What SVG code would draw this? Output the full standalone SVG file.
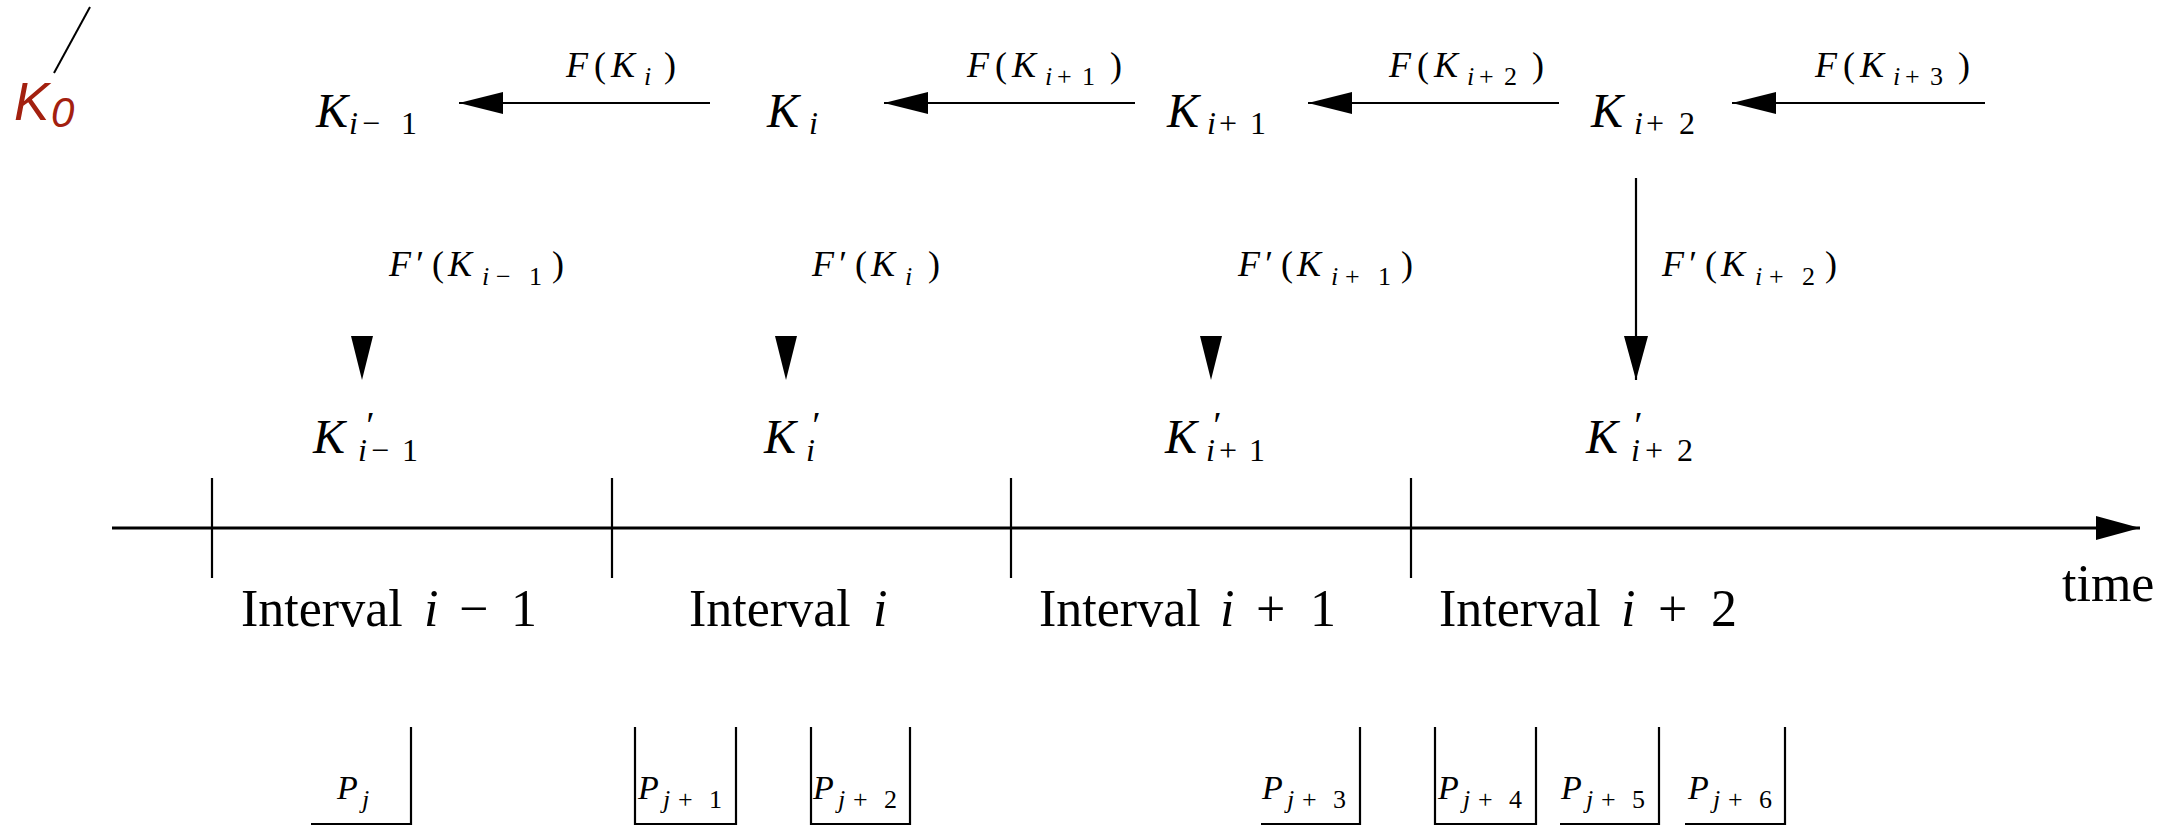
<svg xmlns="http://www.w3.org/2000/svg" width="2183" height="826" viewBox="0 0 2183 826">
<style>
.m{font-family:"Liberation Serif","Times New Roman",serif;font-style:italic;fill:#000}
.u{font-style:normal}
.big{font-size:48px}
.s30{font-size:32px}
.pr{font-size:38px}
.f34{font-size:36px}
.s24{font-size:26px}
.p32{font-size:34px}
.rm{font-family:"Liberation Serif","Times New Roman",serif;font-size:52px;fill:#000}
.it{font-style:italic}
.ln{stroke:#000;stroke-width:2.2;fill:none}
.ax{stroke:#000;stroke-width:3;fill:none}
.hd{fill:#000}
.note{font-family:"Liberation Sans",Arial,sans-serif;font-style:italic;fill:#A3200F}
</style>
<defs>
<marker id="ah" viewBox="0 0 44 22" refX="44" refY="11" markerWidth="44" markerHeight="22" markerUnits="userSpaceOnUse" orient="auto">
<path d="M0,0 L44,11 L0,22 z" fill="#000"/>
</marker>
<marker id="ahv" viewBox="0 0 44 24" refX="44" refY="12" markerWidth="44" markerHeight="24" markerUnits="userSpaceOnUse" orient="auto">
<path d="M0,0 L44,12 L0,24 z" fill="#000"/>
</marker>
</defs>
<rect width="2183" height="826" fill="#fff"/>

<g id="note-K0">
<line x1="90" y1="7" x2="54" y2="73" stroke="#000" stroke-width="2"/>
<text class="note" x="14" y="120" font-size="53">K<tspan x="51" y="127" font-size="42">0</tspan></text>
</g>

<g id="connectors">
<g id="edge-F-Ki">
<path class="ln" d="M710,103 L459,103" marker-end="url(#ah)"/>
<text class="m f34" x="566" y="77">F<tspan class="u" x="594">(</tspan><tspan x="611">K</tspan><tspan class="s24" x="644" y="85">i</tspan><tspan class="u" x="664" y="77">)</tspan></text>
</g>
<g id="edge-F-Ki1">
<path class="ln" d="M1135,103 L884,103" marker-end="url(#ah)"/>
<text class="m f34" x="967" y="77">F<tspan class="u" x="995">(</tspan><tspan x="1012">K</tspan><tspan class="s24" y="85"><tspan x="1045">i</tspan><tspan class="u" x="1057 1082">+1</tspan></tspan><tspan class="u" x="1110" y="77">)</tspan></text>
</g>
<g id="edge-F-Ki2">
<path class="ln" d="M1559,103 L1308,103" marker-end="url(#ah)"/>
<text class="m f34" x="1389" y="77">F<tspan class="u" x="1417">(</tspan><tspan x="1434">K</tspan><tspan class="s24" y="85"><tspan x="1467">i</tspan><tspan class="u" x="1479 1504">+2</tspan></tspan><tspan class="u" x="1532" y="77">)</tspan></text>
</g>
<g id="edge-F-Ki3">
<path class="ln" d="M1985,103 L1732,103" marker-end="url(#ah)"/>
<text class="m f34" x="1815" y="77">F<tspan class="u" x="1843">(</tspan><tspan x="1860">K</tspan><tspan class="s24" y="85"><tspan x="1893">i</tspan><tspan class="u" x="1905 1930">+3</tspan></tspan><tspan class="u" x="1958" y="77">)</tspan></text>
</g>

<g id="edge-Fp-Ki-1">
<polygon class="hd" points="351,336 373,336 362,380"/>
<text class="m f34" x="389" y="276">F<tspan x="414">′</tspan><tspan class="u" x="432">(</tspan><tspan x="448">K</tspan><tspan class="s24" y="285"><tspan x="482">i</tspan><tspan class="u" x="496 529">−1</tspan></tspan><tspan class="u" x="552" y="276">)</tspan></text>
</g>
<g id="edge-Fp-Ki">
<polygon class="hd" points="775,336 797,336 786,380"/>
<text class="m f34" x="812" y="276">F<tspan x="837">′</tspan><tspan class="u" x="855">(</tspan><tspan x="871">K</tspan><tspan class="s24" x="905" y="285">i</tspan><tspan class="u" x="928" y="276">)</tspan></text>
</g>
<g id="edge-Fp-Ki1">
<polygon class="hd" points="1200,336 1222,336 1211,380"/>
<text class="m f34" x="1238" y="276">F<tspan x="1263">′</tspan><tspan class="u" x="1281">(</tspan><tspan x="1297">K</tspan><tspan class="s24" y="285"><tspan x="1331">i</tspan><tspan class="u" x="1345 1378">+1</tspan></tspan><tspan class="u" x="1401" y="276">)</tspan></text>
</g>
<g id="edge-Fp-Ki2">
<path class="ln" d="M1636,178 L1636,380" marker-end="url(#ahv)"/>
<text class="m f34" x="1662" y="276">F<tspan x="1687">′</tspan><tspan class="u" x="1705">(</tspan><tspan x="1721">K</tspan><tspan class="s24" y="285"><tspan x="1755">i</tspan><tspan class="u" x="1769 1802">+2</tspan></tspan><tspan class="u" x="1825" y="276">)</tspan></text>
</g>
</g>

<g id="node-K-i-1"><text class="m big" x="316" y="127">K<tspan class="s30" y="134"><tspan x="349">i</tspan><tspan class="u" x="362 401">−1</tspan></tspan></text></g>
<g id="node-K-i"><text class="m big" x="767" y="127">K<tspan class="s30" x="809" y="134">i</tspan></text></g>
<g id="node-K-i+1"><text class="m big" x="1167" y="127">K<tspan class="s30" y="134"><tspan x="1207">i</tspan><tspan class="u" x="1219 1250">+1</tspan></tspan></text></g>
<g id="node-K-i+2"><text class="m big" x="1591" y="127">K<tspan class="s30" y="134"><tspan x="1634">i</tspan><tspan class="u" x="1646 1679">+2</tspan></tspan></text></g>

<g id="node-Kp-i-1"><text class="m big" x="313" y="453">K<tspan class="pr" x="364" y="438">′</tspan><tspan class="s30" y="461"><tspan x="358">i</tspan><tspan class="u" x="371 402">−1</tspan></tspan></text></g>
<g id="node-Kp-i"><text class="m big" x="764" y="453">K<tspan class="pr" x="810" y="438">′</tspan><tspan class="s30" x="806" y="461">i</tspan></text></g>
<g id="node-Kp-i+1"><text class="m big" x="1165" y="453">K<tspan class="pr" x="1211" y="438">′</tspan><tspan class="s30" y="461"><tspan x="1206">i</tspan><tspan class="u" x="1219 1249">+1</tspan></tspan></text></g>
<g id="node-Kp-i+2"><text class="m big" x="1586" y="453">K<tspan class="pr" x="1632" y="438">′</tspan><tspan class="s30" y="461"><tspan x="1631">i</tspan><tspan class="u" x="1645 1677">+2</tspan></tspan></text></g>

<g id="timeline">
<path class="ax" d="M112,528 L2140,528" marker-end="url(#ahv)"/>
<path class="ln" d="M212,478 V578 M612,478 V578 M1011,478 V578 M1411,478 V578"/>
<text class="rm" x="2062" y="601">time</text>
</g>

<g id="interval-i-1"><text class="rm" x="241" y="626">Interval<tspan class="it" x="424">i</tspan><tspan x="459">−</tspan><tspan x="511">1</tspan></text></g>
<g id="interval-i"><text class="rm" x="689" y="626">Interval<tspan class="it" x="873">i</tspan></text></g>
<g id="interval-i+1"><text class="rm" x="1039" y="626">Interval<tspan class="it" x="1220">i</tspan><tspan x="1256">+</tspan><tspan x="1310">1</tspan></text></g>
<g id="interval-i+2"><text class="rm" x="1439" y="626">Interval<tspan class="it" x="1621">i</tspan><tspan x="1658">+</tspan><tspan x="1711">2</tspan></text></g>

<g id="packet-j"><path class="ln" d="M311,824 H411 V727"/><text class="m p32" x="337" y="799">P<tspan class="s24" x="362" y="808">j</tspan></text></g>
<g id="packet-j1"><path class="ln" d="M635,727 V824 H736 V727"/><text class="m p32" x="638" y="799">P<tspan class="s24" y="808"><tspan x="663">j</tspan><tspan class="u" x="678 709">+1</tspan></tspan></text></g>
<g id="packet-j2"><path class="ln" d="M811,727 V824 H910 V727"/><text class="m p32" x="813" y="799">P<tspan class="s24" y="808"><tspan x="838">j</tspan><tspan class="u" x="853 884">+2</tspan></tspan></text></g>
<g id="packet-j3"><path class="ln" d="M1261,824 H1360 V727"/><text class="m p32" x="1262" y="799">P<tspan class="s24" y="808"><tspan x="1287">j</tspan><tspan class="u" x="1302 1333">+3</tspan></tspan></text></g>
<g id="packet-j4"><path class="ln" d="M1435,727 V824 H1536 V727"/><text class="m p32" x="1438" y="799">P<tspan class="s24" y="808"><tspan x="1463">j</tspan><tspan class="u" x="1478 1509">+4</tspan></tspan></text></g>
<g id="packet-j5"><path class="ln" d="M1560,824 H1659 V727"/><text class="m p32" x="1561" y="799">P<tspan class="s24" y="808"><tspan x="1586">j</tspan><tspan class="u" x="1601 1632">+5</tspan></tspan></text></g>
<g id="packet-j6"><path class="ln" d="M1685,824 H1785 V727"/><text class="m p32" x="1688" y="799">P<tspan class="s24" y="808"><tspan x="1713">j</tspan><tspan class="u" x="1728 1759">+6</tspan></tspan></text></g>
</svg>
